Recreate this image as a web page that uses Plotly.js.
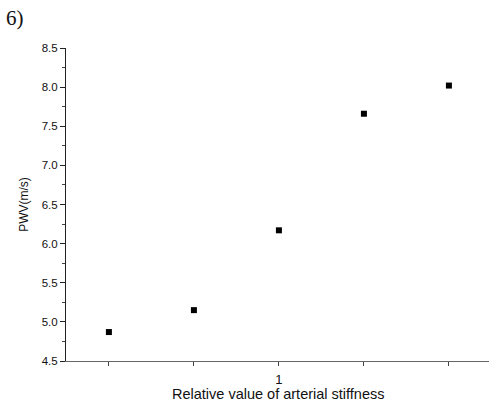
<!DOCTYPE html>
<html>
<head>
<meta charset="utf-8">
<script src="https://cdn.plot.ly/plotly-3.0.1.min.js"></script>
<style>html,body{margin:0;padding:0;background:#fff;}#chart{width:489px;height:401px;}</style>
</head>
<body>
<div id="chart"></div>
<script>
const stiffness = [0.25, 0.5, 1, 2, 4];
const pwv = [4.87, 5.15, 6.17, 7.66, 8.02];
const xTickLabels = ["", "", "1", "", ""];
const yTicks = [4.5, 5.0, 5.5, 6.0, 6.5, 7.0, 7.5, 8.0, 8.5];
const yTickLabels = ["4.5", "5.0", "5.5", "6.0", "6.5", "7.0", "7.5", "8.0", "8.5"];
const xTitle = "Relative value of arterial stiffness";
const yTitle = "PWV(m/s)";

const font = "Liberation Sans, Arial, sans-serif";
Plotly.newPlot("chart", [{
  x: stiffness, y: pwv, type: "scatter", mode: "markers",
  marker: {symbol: "square", size: 6, color: "#000"}
}], {
  width: 489, height: 401,
  margin: {l: 66, r: 0, t: 48, b: 40},
  paper_bgcolor: "#fff", plot_bgcolor: "#fff",
  showlegend: false,
  xaxis: {
    type: "log", range: [-0.754, 0.744],
    tickvals: stiffness, ticktext: xTickLabels,
    ticks: "outside", ticklen: 4, tickcolor: "#444",
    ticklabelstandoff: 2,
    showline: true, linecolor: "#666", linewidth: 1,
    showgrid: false, zeroline: false,
    tickfont: {family: font, size: 13, color: "#111"}
  },
  yaxis: {
    range: [4.5, 8.5], tickvals: yTicks, ticktext: yTickLabels,
    ticks: "outside", ticklen: 5, tickcolor: "#222",
    minor: {dtick: 0.25, ticks: "outside", ticklen: 3, tickcolor: "#444", showgrid: false},
    showline: true, linecolor: "#222", linewidth: 1,
    showgrid: false, zeroline: false,
    tickfont: {family: font, size: 11.5, color: "#111"},
    title: {text: yTitle, font: {family: font, size: 12, color: "#111"}, standoff: 10}
  },
  annotations: [{
    text: "6)", xref: "paper", yref: "paper", x: -0.147, y: 1.095,
    xanchor: "left", yanchor: "middle", showarrow: false,
    font: {family: "Liberation Serif, DejaVu Serif, serif", size: 21, color: "#111"}
  }, {
    text: xTitle, xref: "paper", yref: "paper", x: 0.502, y: -0.105,
    xanchor: "center", yanchor: "middle", showarrow: false,
    font: {family: font, size: 14.5, color: "#111"}
  }]
}, {displayModeBar: false, staticPlot: true});
</script>
</body>
</html>
